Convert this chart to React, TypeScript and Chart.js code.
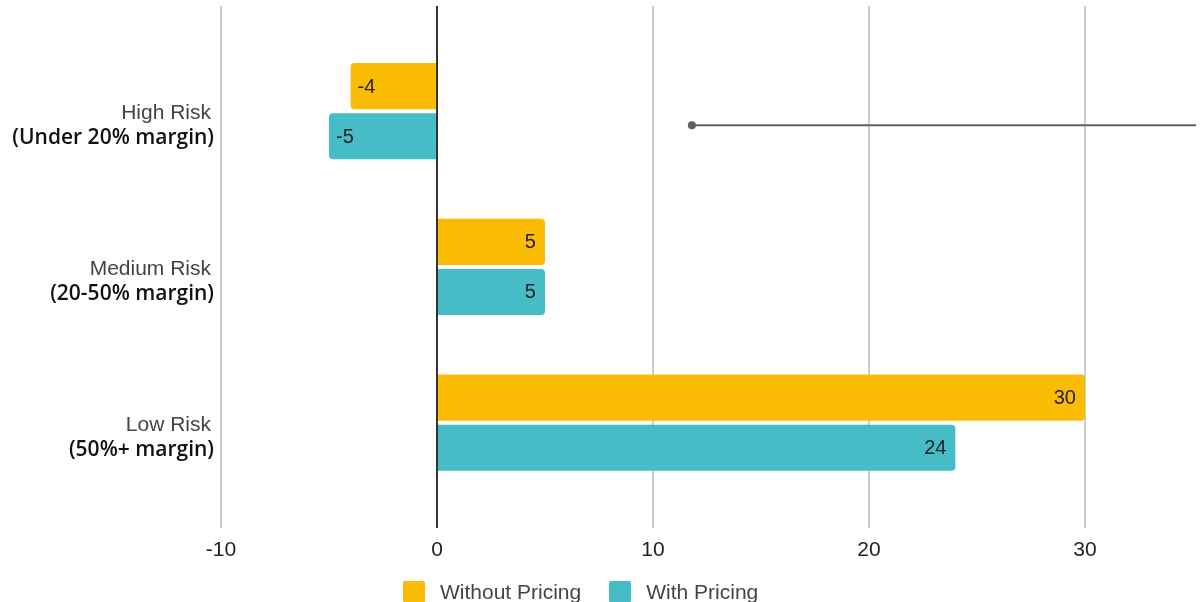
import React, { useEffect, useRef } from 'react';
import { Chart, registerables } from 'chart.js';

Chart.register(...registerables);

// ---- data ----
const categories = ['High Risk', 'Medium Risk', 'Low Risk'];
const subLabels = ['(Under 20% margin)', '(20-50% margin)', '(50%+ margin)'];
const seriesNames = ['Without Pricing', 'With Pricing'];
const withoutPricing = [-4, 5, 30];
const withPricing = [-5, 5, 24];
const xTickValues = [-10, 0, 10, 20, 30];
const xMin = -10;
const xMax = 35.14;
const yMin = -0.675;
const yMax = 2.675;
const markerLineX = [11.8, 37];
const markerLineY = [0.09, 0.09];

const seriesColors = ['#FBBC04', '#46BDC6'];
const LABEL_FONT = '"Liberation Sans", Arial, sans-serif';

const categoryLabelPlugin = {
  id: 'categoryLabels',
  afterDraw(chart: any) {
    const { ctx, chartArea } = chart;
    const y = chart.scales.y;
    ctx.save();
    ctx.textAlign = 'right';
    ctx.textBaseline = 'alphabetic';
    categories.forEach((c, i) => {
      const py = y.getPixelForValue(i);
      ctx.font = `21px ${LABEL_FONT}`;
      ctx.fillStyle = '#444444';
      ctx.fillText(c, chartArea.left - 10, py + 8);
      ctx.font = '600 21px "Open Sans", sans-serif';
      ctx.fillStyle = '#111111';
      ctx.fillText(subLabels[i], chartArea.left - 7, py + 33);
    });
    ctx.restore();
  },
};

const barValuePlugin = {
  id: 'barValues',
  afterDatasetsDraw(chart: any) {
    const { ctx } = chart;
    ctx.save();
    ctx.font = `20px ${LABEL_FONT}`;
    ctx.fillStyle = '#222222';
    ctx.textBaseline = 'middle';
    chart.data.datasets.forEach((ds: any, di: number) => {
      if (ds.type === 'line') return;
      const meta = chart.getDatasetMeta(di);
      meta.data.forEach((el: any, i: number) => {
        const v = ds.data[i].x;
        if (v >= 0) {
          ctx.textAlign = 'right';
          ctx.fillText(String(v), el.x - 9, el.y + 1);
        } else {
          ctx.textAlign = 'left';
          ctx.fillText(String(v), el.x + 7, el.y + 1);
        }
      });
    });
    ctx.restore();
  },
};

const categoryTicks = (s: any) => {
  s.ticks = categories.map((_, i) => ({ value: i }));
};

export default function App() {
  const canvasRef = useRef<HTMLCanvasElement | null>(null);

  useEffect(() => {
    if (!canvasRef.current) return;
    const chart = new Chart(canvasRef.current, {
      type: 'bar',
      data: {
        datasets: [
          {
            type: 'line',
            label: 'marker',
            data: markerLineX.map((x, i) => ({ x, y: markerLineY[i] })),
            yAxisID: 'y2',
            borderColor: '#5f5f5f',
            backgroundColor: '#5f5f5f',
            borderWidth: 2,
            pointRadius: [4, 0],
            pointHoverRadius: [4, 0],
            pointBorderWidth: 0,
            indexAxis: 'y',
            order: -1,
          } as any,
          {
            label: seriesNames[0],
            data: withoutPricing.map((v, i) => ({ x: v, y: i })),
            backgroundColor: seriesColors[0],
            borderRadius: 4,
          },
          {
            label: seriesNames[1],
            data: withPricing.map((v, i) => ({ x: v, y: i })),
            backgroundColor: seriesColors[1],
            borderRadius: 4,
          },
        ],
      },
      options: {
        indexAxis: 'y',
        responsive: false,
        animation: false,
        categoryPercentage: 1.286,
        barPercentage: 0.92,
        layout: { padding: { top: 6, bottom: 29, left: 0, right: 0 } },
        plugins: {
          legend: { display: false },
          tooltip: { enabled: false },
        },
        scales: {
          x: {
            type: 'linear',
            min: xMin,
            max: xMax,
            afterBuildTicks: (s: any) => {
              s.ticks = xTickValues.map((v) => ({ value: v }));
            },
            ticks: {
              font: { family: LABEL_FONT, size: 21 },
              color: '#222222',
              padding: 10,
            },
            grid: {
              drawTicks: false,
              color: (c: any) => (c.tick && c.tick.value === 0 ? '#333333' : '#cccccc'),
              lineWidth: 2,
            },
            border: { display: false },
          },
          y: {
            type: 'linear',
            reverse: true,
            offset: false,
            min: yMin,
            max: yMax,
            bounds: 'data',
            afterBuildTicks: categoryTicks,
            ticks: { display: false },
            grid: { display: false },
            border: { display: false },
            afterFit: (s: any) => {
              s.width = 221;
            },
          },
          y2: {
            type: 'linear',
            reverse: true,
            offset: false,
            display: false,
            min: yMin,
            max: yMax,
            bounds: 'data',
            afterBuildTicks: categoryTicks,
          },
        },
      } as any,
      plugins: [categoryLabelPlugin, barValuePlugin],
    });
    return () => chart.destroy();
  }, []);

  return (
    <div
      style={{
        position: 'fixed',
        left: 0,
        top: 0,
        width: 1200,
        height: 602,
        overflow: 'hidden',
        background: '#ffffff',
      }}
    >
      <canvas ref={canvasRef} width={1200} height={602} style={{ display: 'block' }} />
      <div
        style={{
          position: 'absolute',
          left: 403,
          top: 581,
          display: 'flex',
          alignItems: 'center',
          fontFamily: LABEL_FONT,
          fontSize: 21,
          color: '#444444',
          lineHeight: '22px',
          whiteSpace: 'nowrap',
        }}
      >
        {seriesNames.map((name, i) => (
          <div key={name} style={{ display: 'flex', alignItems: 'center', marginRight: i === 0 ? 28 : 0 }}>
            <span
              style={{
                display: 'inline-block',
                width: 22,
                height: 22,
                background: seriesColors[i],
                borderRadius: 2,
                marginRight: 15,
              }}
            />
            <span>{name}</span>
          </div>
        ))}
      </div>
    </div>
  );
}
